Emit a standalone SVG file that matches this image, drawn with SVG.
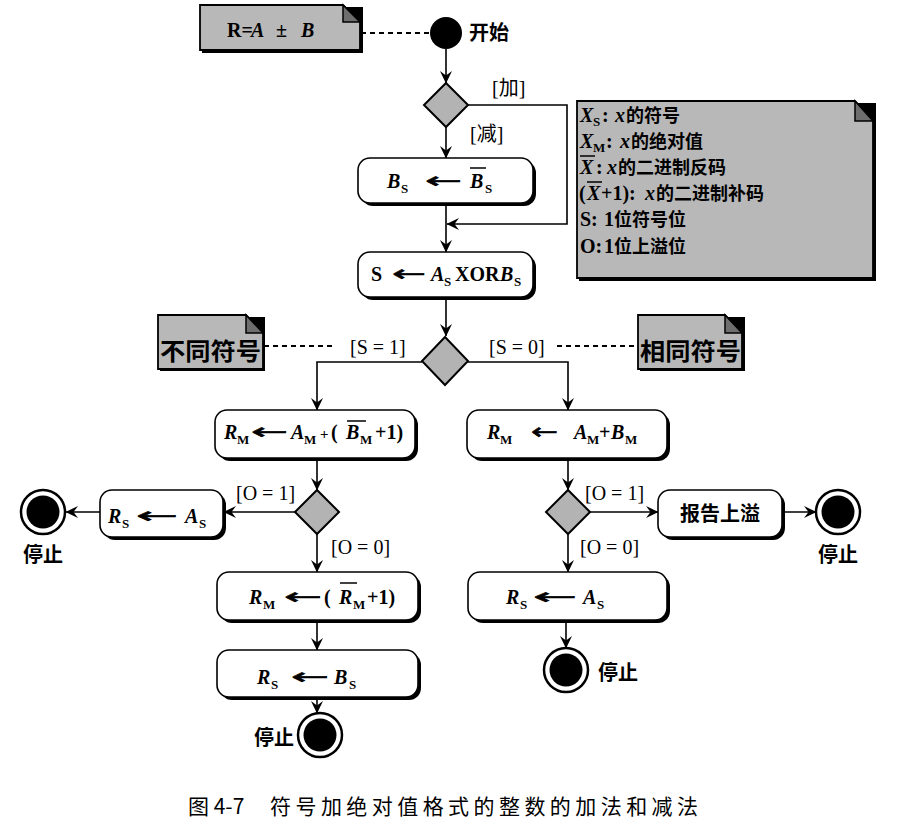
<svg xmlns="http://www.w3.org/2000/svg" width="909" height="824" viewBox="0 0 909 824">
<style>
.m{font-family:"Liberation Serif","Noto Sans CJK SC",serif;font-weight:bold;font-size:20px;fill:#000}
.i{font-style:italic}
.sub{font-size:13px;font-style:normal}
.cn{font-family:"Noto Sans CJK SC",sans-serif;font-weight:bold;font-size:20px;fill:#000}
.nc{font-family:"Noto Sans CJK SC",sans-serif;font-weight:bold;font-size:18px}
.lbl{font-family:"Liberation Serif","Noto Sans CJK SC",serif;font-size:20px;fill:#000}
.arr{font-family:"DejaVu Sans",sans-serif;font-size:22px;fill:#000;stroke:#000;stroke-width:0.6}
.box{fill:#fff;stroke:#000;stroke-width:1.6}
.shd{fill:#000}
.dia{fill:#b3b3b3;stroke:#000;stroke-width:2}
.note{fill:#b8b8b8;stroke:#000;stroke-width:1.8}
.fold{fill:#6e6e6e;stroke:#000;stroke-width:1.5}
.ln{fill:none;stroke:#000;stroke-width:1.6}
.dash{fill:none;stroke:#000;stroke-width:1.8;stroke-dasharray:5 4}
.ob{stroke:#000;stroke-width:1.5}
</style>
<defs>
<marker id="ah" markerUnits="userSpaceOnUse" markerWidth="13" markerHeight="13" viewBox="0 0 13 13" refX="12" refY="6.5" orient="auto">
<path d="M0,0.5 L12.5,6.5 L0,12.5 L4.5,6.5 z" fill="#000"/>
</marker>
</defs>
<rect width="909" height="824" fill="#fff"/>

<g id="connectors">
<line class="dash" x1="361" y1="33" x2="430" y2="33"/>
<line class="dash" x1="264" y1="346" x2="332" y2="346"/>
<line class="dash" x1="557" y1="346" x2="637" y2="346"/>
<line class="ln" x1="446" y1="49" x2="446" y2="83" marker-end="url(#ah)"/>
<polyline class="ln" points="468,105 567,105 567,224 447,224" marker-end="url(#ah)"/>
<line class="ln" x1="446" y1="127" x2="446" y2="158" marker-end="url(#ah)"/>
<line class="ln" x1="446" y1="204" x2="446" y2="252" marker-end="url(#ah)"/>
<line class="ln" x1="446" y1="298" x2="446" y2="336" marker-end="url(#ah)"/>
<polyline class="ln" points="422,362 317,362 317,410" marker-end="url(#ah)"/>
<polyline class="ln" points="468,362 568,362 568,410" marker-end="url(#ah)"/>
<line class="ln" x1="317" y1="459" x2="317" y2="490" marker-end="url(#ah)"/>
<line class="ln" x1="295" y1="512" x2="224" y2="512" marker-end="url(#ah)"/>
<line class="ln" x1="100" y1="512" x2="66" y2="512" marker-end="url(#ah)"/>
<line class="ln" x1="317" y1="534" x2="317" y2="572" marker-end="url(#ah)"/>
<line class="ln" x1="317" y1="621" x2="317" y2="650" marker-end="url(#ah)"/>
<line class="ln" x1="317" y1="698" x2="317" y2="713" marker-end="url(#ah)"/>
<line class="ln" x1="568" y1="459" x2="568" y2="490" marker-end="url(#ah)"/>
<line class="ln" x1="590" y1="512" x2="658" y2="512" marker-end="url(#ah)"/>
<line class="ln" x1="783" y1="512" x2="816" y2="512" marker-end="url(#ah)"/>
<line class="ln" x1="568" y1="534" x2="568" y2="572" marker-end="url(#ah)"/>
<line class="ln" x1="566" y1="621" x2="566" y2="648" marker-end="url(#ah)"/>
</g>

<g id="guard-labels">
<text class="lbl" x="492" y="95">[加]</text>
<text class="lbl" x="470" y="141">[减]</text>
<text class="lbl" x="350" y="354">[S = 1]</text>
<text class="lbl" x="489" y="354">[S = 0]</text>
<text class="lbl" x="236" y="500">[O = 1]</text>
<text class="lbl" x="331" y="554">[O = 0]</text>
<text class="lbl" x="585" y="500">[O = 1]</text>
<text class="lbl" x="580" y="554">[O = 0]</text>
</g>

<g id="note-formula">
<rect class="shd" x="202" y="7" width="161" height="46"/>
<path class="note" d="M200,5 H343 L360,22 V50 H200 Z"/>
<path class="fold" d="M343,5 L360,22 H343 Z"/>
<text class="m" y="37"><tspan x="227">R=</tspan><tspan class="i" x="251">A</tspan><tspan x="276">±</tspan><tspan class="i" x="301">B</tspan></text>
</g>

<g id="start">
<circle cx="446" cy="33" r="16" fill="#000"/>
<text class="cn" x="469" y="40">开始</text>
</g>

<g id="decision-addsub">
<polygon class="dia" points="446,83 468,105 446,127 424,105"/>
</g>

<g id="box-negate">
<rect class="shd" x="361" y="161" width="175" height="45" rx="12"/>
<rect class="box" x="358" y="158" width="175" height="45" rx="12"/>
<text class="m" y="188"><tspan class="i" x="387">B</tspan><tspan class="sub" x="401" dy="5">S</tspan><tspan class="i" x="470" dy="-5">B</tspan><tspan class="sub" x="485" dy="5">S</tspan></text>
<text class="arr" x="425" y="188" textLength="37" lengthAdjust="spacingAndGlyphs">←</text>
<line class="ob" x1="470" y1="168" x2="486" y2="168"/>
</g>

<g id="box-sign">
<rect class="shd" x="361" y="255" width="175" height="45" rx="12"/>
<rect class="box" x="358" y="252" width="175" height="45" rx="12"/>
<text class="m" y="281"><tspan x="371">S</tspan><tspan class="i" x="431">A</tspan><tspan class="sub" x="444" dy="5">S</tspan><tspan x="455" dy="-5">XOR</tspan><tspan class="i" x="500">B</tspan><tspan class="sub" x="514" dy="5">S</tspan></text>
<text class="arr" x="392" y="281" textLength="34" lengthAdjust="spacingAndGlyphs">←</text>
</g>

<g id="note-legend">
<rect class="shd" x="579" y="103" width="297" height="178"/>
<path class="note" d="M577,101 H855 L873,121 V278 H577 Z"/>
<path class="fold" d="M855,101 L873,121 H855 Z"/>
<text class="m" y="122"><tspan class="i" x="580">X</tspan><tspan class="sub" x="593" dy="4">S</tspan><tspan x="602" dy="-4">:</tspan><tspan class="i" x="615">x</tspan><tspan class="nc" x="626">的符号</tspan></text>
<text class="m" y="148"><tspan class="i" x="580">X</tspan><tspan class="sub" x="593" dy="4">M</tspan><tspan x="606" dy="-4">:</tspan><tspan class="i" x="620">x</tspan><tspan class="nc" x="631">的绝对值</tspan></text>
<text class="m" y="174"><tspan class="i" x="580">X</tspan><tspan x="596">:</tspan><tspan class="i" x="607">x</tspan><tspan class="nc" x="618">的二进制反码</tspan></text>
<line class="ob" x1="580" y1="156" x2="595" y2="156"/>
<text class="m" y="200"><tspan x="579">(</tspan><tspan class="i" x="587">X</tspan><tspan x="601">+1):</tspan><tspan class="i" x="645">x</tspan><tspan class="nc" x="656">的二进制补码</tspan></text>
<line class="ob" x1="587" y1="182" x2="602" y2="182"/>
<text class="m" y="226"><tspan x="580">S:</tspan><tspan x="604">1</tspan><tspan class="nc" x="614">位符号位</tspan></text>
<text class="m" y="253"><tspan x="580">O:</tspan><tspan x="604">1</tspan><tspan class="nc" x="614">位上溢位</tspan></text>
</g>

<g id="decision-sign">
<polygon class="dia" points="445,337 468,361 445,385 422,361"/>
</g>

<g id="note-diff">
<rect class="shd" x="160" y="317" width="105" height="54"/>
<path class="note" d="M158,315 H246 L263,333 V369 H158 Z"/>
<path class="fold" d="M246,315 L263,333 H246 Z"/>
<text class="cn" x="160" y="360" style="font-size:24px" textLength="101" lengthAdjust="spacingAndGlyphs">不同符号</text>
</g>

<g id="note-same">
<rect class="shd" x="640" y="317" width="105" height="54"/>
<path class="note" d="M638,315 H725 L742,333 V369 H638 Z"/>
<path class="fold" d="M725,315 L742,333 H725 Z"/>
<text class="cn" x="640" y="360" style="font-size:24px" textLength="101" lengthAdjust="spacingAndGlyphs">相同符号</text>
</g>

<g id="box-sub-mag">
<rect class="shd" x="218" y="413" width="200" height="48" rx="12"/>
<rect class="box" x="215" y="410" width="200" height="48" rx="12"/>
<text class="m" y="439"><tspan class="i" x="224">R</tspan><tspan class="sub" x="237" dy="5">M</tspan><tspan class="i" x="291" dy="-5">A</tspan><tspan class="sub" x="304" dy="5">M</tspan><tspan x="320" dy="-5" style="font-size:15px">+</tspan><tspan x="331">(</tspan><tspan class="i" x="346">B</tspan><tspan class="sub" x="360" dy="5">M</tspan><tspan x="375" dy="-5">+1)</tspan></text>
<text class="arr" x="251" y="439" textLength="37" lengthAdjust="spacingAndGlyphs">←</text>
<line class="ob" x1="347" y1="421" x2="366" y2="421"/>
</g>

<g id="box-add-mag">
<rect class="shd" x="470" y="413" width="200" height="48" rx="12"/>
<rect class="box" x="467" y="410" width="200" height="48" rx="12"/>
<text class="m" y="439"><tspan class="i" x="487">R</tspan><tspan class="sub" x="500" dy="5">M</tspan><tspan class="i" x="574" dy="-5">A</tspan><tspan class="sub" x="587" dy="5">M</tspan><tspan x="599" dy="-5">+</tspan><tspan class="i" x="611">B</tspan><tspan class="sub" x="625" dy="5">M</tspan></text>
<text class="arr" x="531" y="439" textLength="27" lengthAdjust="spacingAndGlyphs">←</text>
</g>

<g id="decision-ovf-left">
<polygon class="dia" points="317,490 339,512 317,534 295,512"/>
</g>

<g id="box-rs-as-left">
<rect class="shd" x="103" y="493" width="123" height="47" rx="12"/>
<rect class="box" x="100" y="490" width="123" height="47" rx="12"/>
<text class="m" y="523"><tspan class="i" x="108">R</tspan><tspan class="sub" x="122" dy="5">S</tspan><tspan class="i" x="185" dy="-5">A</tspan><tspan class="sub" x="199" dy="5">S</tspan></text>
<text class="arr" x="136" y="523" textLength="42" lengthAdjust="spacingAndGlyphs">←</text>
</g>

<g id="stop-left">
<circle cx="43" cy="512" r="22" fill="#fff" stroke="#000" stroke-width="2.5"/>
<circle cx="43" cy="512" r="16.5" fill="#000"/>
<text class="cn" x="43" y="562" text-anchor="middle">停止</text>
</g>

<g id="box-complement">
<rect class="shd" x="220" y="575" width="201" height="48" rx="12"/>
<rect class="box" x="217" y="572" width="201" height="48" rx="12"/>
<text class="m" y="604"><tspan class="i" x="249">R</tspan><tspan class="sub" x="263" dy="5">M</tspan><tspan x="324" dy="-5">(</tspan><tspan class="i" x="339">R</tspan><tspan class="sub" x="353" dy="5">M</tspan><tspan x="367" dy="-5">+1)</tspan></text>
<text class="arr" x="284" y="604" textLength="38" lengthAdjust="spacingAndGlyphs">←</text>
<line class="ob" x1="340" y1="583" x2="357" y2="583"/>
</g>

<g id="box-rs-bs">
<rect class="shd" x="220" y="653" width="201" height="47" rx="12"/>
<rect class="box" x="217" y="650" width="201" height="47" rx="12"/>
<text class="m" y="684"><tspan class="i" x="257">R</tspan><tspan class="sub" x="271" dy="5">S</tspan><tspan class="i" x="334" dy="-5">B</tspan><tspan class="sub" x="349" dy="5">S</tspan></text>
<text class="arr" x="291" y="684" textLength="38" lengthAdjust="spacingAndGlyphs">←</text>
</g>

<g id="stop-bottom-left">
<circle cx="320" cy="735" r="22" fill="#fff" stroke="#000" stroke-width="2.5"/>
<circle cx="320" cy="735" r="16.5" fill="#000"/>
<text class="cn" x="294" y="745" text-anchor="end">停止</text>
</g>

<g id="decision-ovf-right">
<polygon class="dia" points="568,490 590,512 568,534 546,512"/>
</g>

<g id="box-overflow">
<rect class="shd" x="661" y="493" width="124" height="47" rx="12"/>
<rect class="box" x="658" y="490" width="124" height="47" rx="12"/>
<text class="cn" x="720" y="521" text-anchor="middle">报告上溢</text>
</g>

<g id="stop-right">
<circle cx="838" cy="512" r="22" fill="#fff" stroke="#000" stroke-width="2.5"/>
<circle cx="838" cy="512" r="16.5" fill="#000"/>
<text class="cn" x="838" y="562" text-anchor="middle">停止</text>
</g>

<g id="box-rs-as-right">
<rect class="shd" x="471" y="575" width="199" height="48" rx="12"/>
<rect class="box" x="468" y="572" width="199" height="48" rx="12"/>
<text class="m" y="604"><tspan class="i" x="506">R</tspan><tspan class="sub" x="520" dy="5">S</tspan><tspan class="i" x="583" dy="-5">A</tspan><tspan class="sub" x="597" dy="5">S</tspan></text>
<text class="arr" x="533" y="604" textLength="44" lengthAdjust="spacingAndGlyphs">←</text>
</g>

<g id="stop-bottom-right">
<circle cx="566" cy="670" r="22" fill="#fff" stroke="#000" stroke-width="2.5"/>
<circle cx="566" cy="670" r="16.5" fill="#000"/>
<text class="cn" x="598" y="680">停止</text>
</g>

<g id="caption">
<text x="188" y="814" style="font-family:'Noto Sans CJK SC',sans-serif;font-size:21px;fill:#000">图 4-7</text>
<text x="270" y="814" style="font-family:'Noto Sans CJK SC',sans-serif;font-size:21px;fill:#000" textLength="428" lengthAdjust="spacing">符号加绝对值格式的整数的加法和减法</text>
</g>
</svg>
